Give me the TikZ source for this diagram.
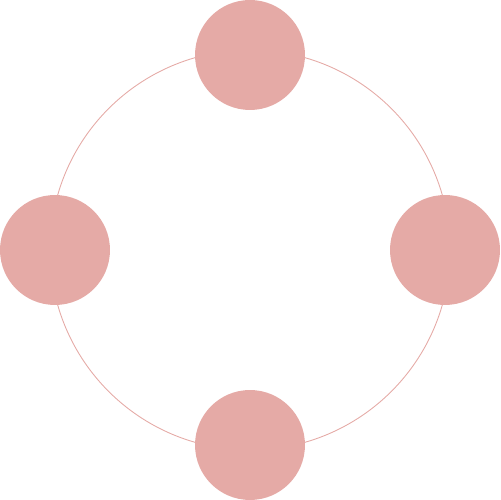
\documentclass[tikz,border=0pt]{standalone}
\definecolor{rosefill}{HTML}{E5AAA6}
\begin{document}
\begin{tikzpicture}[x=0.02cm, y=0.02cm,
    dot/.style={circle, fill=rosefill, minimum size=2.2cm, inner sep=0pt}]
  \useasboundingbox (0,0) rectangle (500,500);
  \coordinate (c) at (250,250);
  \draw[rosefill, line width=0.5pt] (c) circle[radius=4cm];
  \foreach \name/\x/\y in {top/250/445, right/445/250, bottom/250/55, left/55/250}
    \node[dot] (\name) at (\x,\y) {};
\end{tikzpicture}
\end{document}
